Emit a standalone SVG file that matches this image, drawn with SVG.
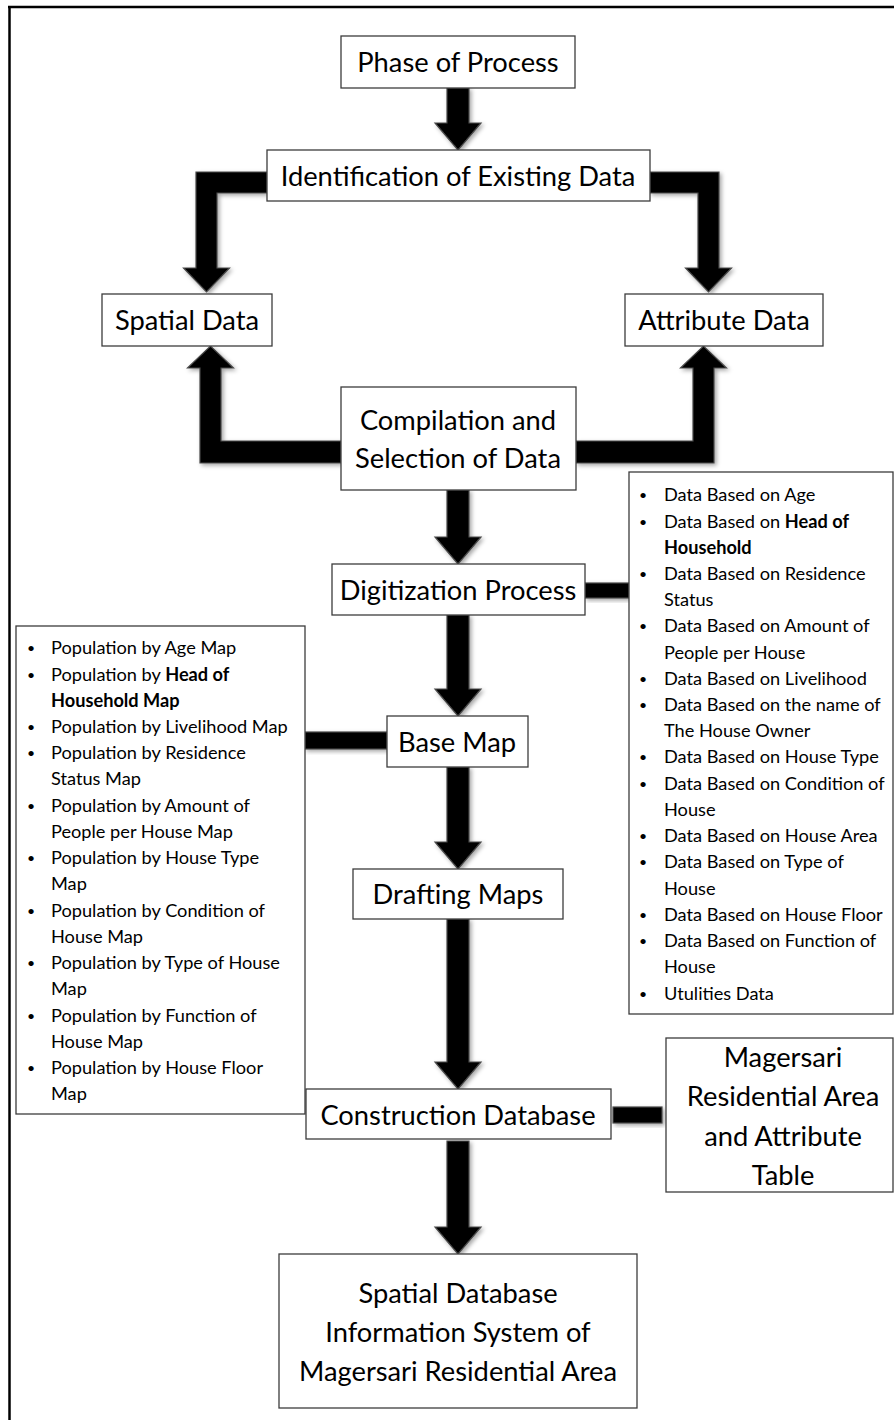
<svg xmlns="http://www.w3.org/2000/svg" width="894" height="1420" viewBox="0 0 894 1420">
<style>
.box{fill:#fff;stroke:#3c3c3c;stroke-width:1.3}
.t{font-family:Lato,"Open Sans","Liberation Sans",sans-serif;font-size:27.3px;fill:#000;text-anchor:middle}
.l{font-family:Lato,"Open Sans","Liberation Sans",sans-serif;font-size:18.2px;fill:#000}
.d{font-size:14px;text-anchor:middle}
.b{font-weight:bold}
.arr{fill:#000;stroke:#4a4a4a;stroke-width:1.2;filter:url(#sh)}
</style>
<defs>
<filter id="sh" x="-30%" y="-30%" width="160%" height="160%">
<feDropShadow dx="2" dy="2" stdDeviation="2" flood-color="#000" flood-opacity="0.35"/>
</filter>
</defs>
<rect width="894" height="1420" fill="#fff"/>
<g id="frame">
<line x1="9.5" y1="6" x2="9.5" y2="1420" stroke="#000" stroke-width="2.5"/>
<line x1="8" y1="7" x2="894" y2="7" stroke="#000" stroke-width="2.5"/>
</g>
<g id="connectors">
<path class="arr" d="M447,88 H469 V123 H481 L458,150 L435,123 H447 Z"/>
<path class="arr" d="M267,172 H196 V268 H183.5 L206.5,292 L229.5,268 H217 V193 H267 Z"/>
<path class="arr" d="M650,172 H719 V268 H731.5 L708.5,292 L685.5,268 H698 V193 H650 Z"/>
<path class="arr" d="M341,463 H200 V368 H187.5 L210.5,346 L233.5,368 H221 V441 H341 Z"/>
<path class="arr" d="M576,463 H714 V368 H726.5 L703.5,346 L680.5,368 H693 V441 H576 Z"/>
<path class="arr" d="M447,490 H469 V537 H481 L458,564 L435,537 H447 Z"/>
<path class="arr" d="M447,615 H469 V689 H481 L458,716 L435,689 H447 Z"/>
<path class="arr" d="M447,767 H469 V842 H481 L458,869 L435,842 H447 Z"/>
<path class="arr" d="M447,919 H469 V1062 H481 L458,1089 L435,1062 H447 Z"/>
<path class="arr" d="M447,1141 H469 V1227 H481 L458,1254 L435,1227 H447 Z"/>
<rect class="arr" x="585" y="583" width="44" height="15"/>
<rect class="arr" x="305" y="732" width="82" height="17"/>
<rect class="arr" x="613" y="1107" width="49" height="16"/>
</g>
<g id="phase"><rect class="box" x="341" y="36" width="234" height="52"/><text class="t" x="458" y="72">Phase of Process</text></g>
<g id="ident"><rect class="box" x="267" y="150" width="383" height="51"/><text class="t" x="458" y="186">Identification of Existing Data</text></g>
<g id="spatial"><rect class="box" x="102" y="294" width="170" height="52"/><text class="t" x="187" y="330">Spatial Data</text></g>
<g id="attribute"><rect class="box" x="625" y="294" width="198" height="52"/><text class="t" x="724" y="330">Attribute Data</text></g>
<g id="compilation"><rect class="box" x="341" y="387" width="235" height="103"/><text class="t" x="458" y="430">Compilation and</text><text class="t" x="458" y="468">Selection of Data</text></g>
<g id="digitization"><rect class="box" x="332" y="564" width="253" height="51"/><text class="t" x="458" y="600">Digitization Process</text></g>
<g id="basemap"><rect class="box" x="387" y="716" width="141" height="51"/><text class="t" x="457" y="752">Base Map</text></g>
<g id="drafting"><rect class="box" x="353" y="869" width="210" height="50"/><text class="t" x="458" y="904">Drafting Maps</text></g>
<g id="construction"><rect class="box" x="306" y="1089" width="305" height="50"/><text class="t" x="458" y="1125">Construction Database</text></g>
<g id="magersari"><rect class="box" x="666" y="1038" width="227" height="154"/>
<text class="t" x="783" y="1067">Magersari</text><text class="t" x="783" y="1106">Residential Area</text><text class="t" x="783" y="1146">and Attribute</text><text class="t" x="783" y="1185">Table</text></g>
<g id="spatialdb"><rect class="box" x="279" y="1254" width="358" height="154"/>
<text class="t" x="458" y="1303">Spatial Database</text><text class="t" x="458" y="1342">Information System of</text><text class="t" x="458" y="1381">Magersari Residential Area</text></g>
<g id="datalist"><rect class="box" x="629" y="472" width="264" height="542"/>
<g class="l">
<text class="d" x="643" y="500">•</text><text x="664" y="501">Data Based on Age</text>
<text class="d" x="643" y="527">•</text><text x="664" y="528">Data Based on <tspan class="b">Head of</tspan></text>
<text x="664" y="554" class="b">Household</text>
<text class="d" x="643" y="579">•</text><text x="664" y="580">Data Based on Residence</text>
<text x="664" y="606">Status</text>
<text class="d" x="643" y="631">•</text><text x="664" y="632">Data Based on Amount of</text>
<text x="664" y="659">People per House</text>
<text class="d" x="643" y="684">•</text><text x="664" y="685">Data Based on Livelihood</text>
<text class="d" x="643" y="710">•</text><text x="664" y="711">Data Based on the name of</text>
<text x="664" y="737">The House Owner</text>
<text class="d" x="643" y="762">•</text><text x="664" y="763">Data Based on House Type</text>
<text class="d" x="643" y="789">•</text><text x="664" y="790">Data Based on Condition of</text>
<text x="664" y="816">House</text>
<text class="d" x="643" y="841">•</text><text x="664" y="842">Data Based on House Area</text>
<text class="d" x="643" y="867">•</text><text x="664" y="868">Data Based on Type of</text>
<text x="664" y="895">House</text>
<text class="d" x="643" y="920">•</text><text x="664" y="921">Data Based on House Floor</text>
<text class="d" x="643" y="946">•</text><text x="664" y="947">Data Based on Function of</text>
<text x="664" y="973">House</text>
<text class="d" x="643" y="999">•</text><text x="664" y="1000">Utulities Data</text>
</g></g>
<g id="maplist"><rect class="box" x="16" y="626" width="289" height="488"/>
<g class="l">
<text class="d" x="31" y="653">•</text><text x="51" y="654">Population by Age Map</text>
<text class="d" x="31" y="680">•</text><text x="51" y="681">Population by <tspan class="b">Head of</tspan></text>
<text x="51" y="707" class="b">Household Map</text>
<text class="d" x="31" y="732">•</text><text x="51" y="733">Population by Livelihood Map</text>
<text class="d" x="31" y="758">•</text><text x="51" y="759">Population by Residence</text>
<text x="51" y="785">Status Map</text>
<text class="d" x="31" y="811">•</text><text x="51" y="812">Population by Amount of</text>
<text x="51" y="838">People per House Map</text>
<text class="d" x="31" y="863">•</text><text x="51" y="864">Population by House Type</text>
<text x="51" y="890">Map</text>
<text class="d" x="31" y="916">•</text><text x="51" y="917">Population by Condition of</text>
<text x="51" y="943">House Map</text>
<text class="d" x="31" y="968">•</text><text x="51" y="969">Population by Type of House</text>
<text x="51" y="995">Map</text>
<text class="d" x="31" y="1021">•</text><text x="51" y="1022">Population by Function of</text>
<text x="51" y="1048">House Map</text>
<text class="d" x="31" y="1073">•</text><text x="51" y="1074">Population by House Floor</text>
<text x="51" y="1100">Map</text>
</g></g>
</svg>
